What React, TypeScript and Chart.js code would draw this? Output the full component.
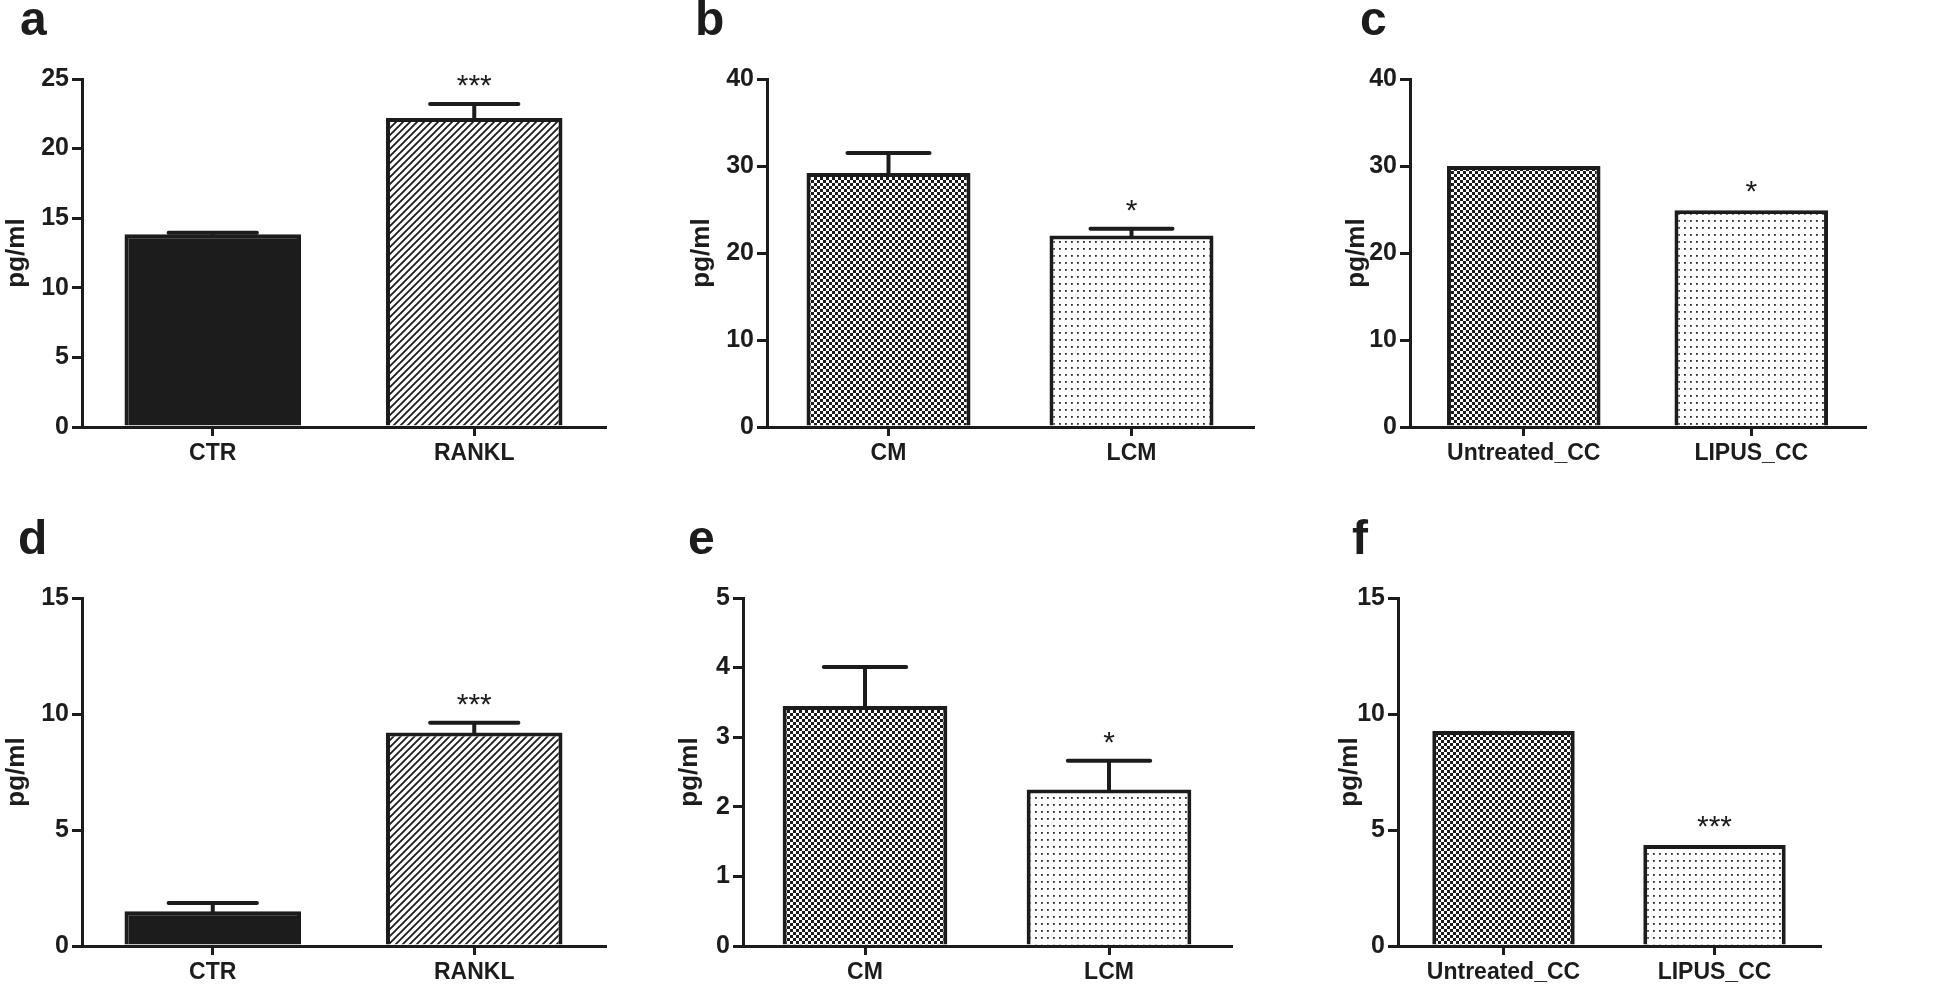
import React, { useEffect, useRef } from "react";
import { Chart, registerables } from "chart.js";

Chart.register(...registerables);

// ---------- DATA ----------
const catsA = ["CTR", "RANKL"];
const catsB = ["CM", "LCM"];
const catsC = ["Untreated_CC", "LIPUS_CC"];

const valuesA = [13.85, 22.2];
const errorsA = [0.1, 1.0];
const sigA = ["", "***"];

const valuesB = [29.2, 22.0];
const errorsB = [2.3, 0.8];
const sigB = ["", "*"];

const valuesC = [30.0, 24.9];
const errorsC = [0, 0];
const sigC = ["", "*"];

const valuesD = [1.5, 9.2];
const errorsD = [0.35, 0.42];
const sigD = ["", "***"];

const valuesE = [3.45, 2.25];
const errorsE = [0.56, 0.41];
const sigE = ["", "*"];

const valuesF = [9.27, 4.35];
const errorsF = [0, 0];
const sigF = ["", "***"];

const yMaxes = [25, 40, 40, 15, 5, 15];
const ySteps = [5, 10, 10, 5, 1, 5];
const panelLetters = ["a", "b", "c", "d", "e", "f"];
const yTitle = "pg/ml";

// ---------- STYLE / LAYOUT ----------
const INK = "#1c1c1c";
const FONT = "'Liberation Sans', Arial, Helvetica, sans-serif";

function makePattern(kind: string): CanvasPattern | string {
  const c = document.createElement("canvas");
  const g = c.getContext("2d")!;
  if (kind === "solid") return INK;
  if (kind === "hatch") {
    const s = 7;
    c.width = s; c.height = s;
    g.fillStyle = "#fff"; g.fillRect(0, 0, s, s);
    g.strokeStyle = INK; g.lineWidth = 1.8;
    g.beginPath();
    g.moveTo(-1, 1); g.lineTo(1, -1);
    g.moveTo(0, s); g.lineTo(s, 0);
    g.moveTo(s - 1, s + 1); g.lineTo(s + 1, s - 1);
    g.stroke();
  } else if (kind === "check") {
    const cs = 3;
    c.width = cs * 2; c.height = cs * 2;
    g.fillStyle = "#fff"; g.fillRect(0, 0, cs * 2, cs * 2);
    g.fillStyle = INK;
    g.fillRect(0, 0, cs, cs);
    g.fillRect(cs, cs, cs, cs);
  } else {
    c.width = 6; c.height = 7;
    g.fillStyle = "#fff"; g.fillRect(0, 0, 6, 7);
    g.fillStyle = "#2a2a2a";
    g.fillRect(2, 3, 1.8, 1.8);
  }
  return g.createPattern(c, "repeat")!;
}

type PanelCfg = {
  cats: string[]; values: number[]; errors: number[]; sig: string[];
  yMax: number; yStep: number; letter: string; fills: string[][];
  left: number; top: number; width: number; height: number;
  axisX: number; axisRight: number; padTop: number; xHeight: number;
  letterX: number; letterY: number;
};

const errPlugin = {
  id: "errs",
  afterDatasetsDraw(chart: any, _args: any, opts: any) {
    const ctx = chart.ctx;
    const meta = chart.getDatasetMeta(0);
    const ys = chart.scales.y;
    const data = chart.data.datasets[0].data as number[];
    meta.data.forEach((bar: any, i: number) => {
      const v = data[i];
      const e = opts.errors[i] || 0;
      const x = bar.x;
      const w = bar.width;
      const top = ys.getPixelForValue(v);
      const capY = ys.getPixelForValue(v + e);
      ctx.save();
      ctx.strokeStyle = INK;
      ctx.lineWidth = 4;
      if (e > 0) {
        ctx.lineCap = "butt";
        ctx.beginPath();
        ctx.moveTo(x, top + 2);
        ctx.lineTo(x, capY);
        ctx.stroke();
        ctx.lineCap = "round";
        ctx.beginPath();
        ctx.moveTo(x - w / 4, capY);
        ctx.lineTo(x + w / 4, capY);
        ctx.stroke();
      }
      const s = opts.sig[i];
      if (s) {
        ctx.fillStyle = INK;
        ctx.font = `normal 30px ${FONT}`;
        ctx.textAlign = "center";
        ctx.textBaseline = "alphabetic";
        ctx.fillText(s, x, capY - 9);
      }
      ctx.restore();
    });
  },
};

function Panel({ cfg }: { cfg: PanelCfg }) {
  const ref = useRef<HTMLCanvasElement>(null);
  useEffect(() => {
    const canvas = ref.current!;
    const bg = cfg.fills.map((f) => makePattern(f[0]));
    const chart = new Chart(canvas, {
      type: "bar",
      data: {
        labels: cfg.cats,
        datasets: [
          {
            data: cfg.values,
            backgroundColor: bg as any,
            borderColor: INK,
            borderWidth: 4,
            borderSkipped: "start",
            barPercentage: 0.675,
            categoryPercentage: 1,
          },
        ],
      },
      options: {
        responsive: false,
        animation: false,
        devicePixelRatio: 1,
        events: [],
        layout: {
          padding: {
            left: 0,
            top: cfg.padTop,
            right: cfg.left + cfg.width - cfg.axisRight,
            bottom: 0,
          },
        },
        plugins: {
          legend: { display: false },
          tooltip: { enabled: false },
          errs: { errors: cfg.errors, sig: cfg.sig },
        } as any,
        scales: {
          x: {
            type: "category",
            offset: true,
            afterFit: (s: any) => { s.height = cfg.xHeight; },
            grid: {
              display: true,
              offset: false,
              drawOnChartArea: false,
              drawTicks: true,
              tickLength: 9,
              lineWidth: 3,
              color: INK,
            },
            border: { display: true, width: 3, color: INK },
            ticks: {
              color: INK,
              padding: 4,
              maxRotation: 0,
              font: { family: FONT, size: 23, weight: "bold" },
            },
          },
          y: {
            min: 0,
            max: cfg.yMax,
            afterFit: (s: any) => { s.width = cfg.axisX - cfg.left; },
            grid: {
              display: true,
              drawOnChartArea: false,
              drawTicks: true,
              tickLength: 10,
              lineWidth: 3,
              color: INK,
            },
            border: { display: true, width: 3, color: INK },
            ticks: {
              stepSize: cfg.yStep,
              color: INK,
              padding: 3,
              font: { family: FONT, size: 25, weight: "bold" },
            },
            title: {
              display: true,
              text: yTitle,
              color: INK,
              padding: { top: 1, bottom: 0 },
              font: { family: FONT, size: 26, weight: "bold" },
            },
          },
        },
      },
      plugins: [errPlugin as any],
    });
    return () => chart.destroy();
  }, []);
  return (
    <>
      <canvas
        ref={ref}
        width={cfg.width}
        height={cfg.height}
        style={{
          position: "absolute",
          left: cfg.left,
          top: cfg.top,
          width: cfg.width,
          height: cfg.height,
          display: "block",
        }}
      />
      <div
        style={{
          position: "absolute",
          left: cfg.letterX,
          top: cfg.letterY,
          font: `bold 48px/48px ${FONT}`,
          color: INK,
        }}
      >
        {cfg.letter}
      </div>
    </>
  );
}

const fillsA = [["solid"], ["hatch"]];
const fillsB = [["check"], ["dots"]];

const panels: PanelCfg[] = [
  { cats: catsA, values: valuesA, errors: errorsA, sig: sigA, yMax: yMaxes[0], yStep: ySteps[0], letter: panelLetters[0], fills: fillsA,
    left: 0, top: 0, width: 660, height: 495, axisX: 82, axisRight: 605, padTop: 79, xHeight: 68, letterX: 20, letterY: -5 },
  { cats: catsB, values: valuesB, errors: errorsB, sig: sigB, yMax: yMaxes[1], yStep: ySteps[1], letter: panelLetters[1], fills: fillsB,
    left: 685, top: 0, width: 645, height: 495, axisX: 767, axisRight: 1253, padTop: 79, xHeight: 68, letterX: 695, letterY: -5 },
  { cats: catsC, values: valuesC, errors: errorsC, sig: sigC, yMax: yMaxes[2], yStep: ySteps[2], letter: panelLetters[2], fills: fillsB,
    left: 1340, top: 0, width: 606, height: 495, axisX: 1410, axisRight: 1865, padTop: 79, xHeight: 68, letterX: 1360, letterY: -5 },
  { cats: catsA, values: valuesD, errors: errorsD, sig: sigD, yMax: yMaxes[3], yStep: ySteps[3], letter: panelLetters[3], fills: fillsA,
    left: 0, top: 500, width: 660, height: 489, axisX: 82, axisRight: 605, padTop: 98, xHeight: 43, letterX: 18, letterY: 514 },
  { cats: catsB, values: valuesE, errors: errorsE, sig: sigE, yMax: yMaxes[4], yStep: ySteps[4], letter: panelLetters[4], fills: fillsB,
    left: 673, top: 500, width: 647, height: 489, axisX: 743, axisRight: 1231, padTop: 98, xHeight: 43, letterX: 688, letterY: 514 },
  { cats: catsC, values: valuesF, errors: errorsF, sig: sigF, yMax: yMaxes[5], yStep: ySteps[5], letter: panelLetters[5], fills: fillsB,
    left: 1333, top: 500, width: 613, height: 489, axisX: 1398, axisRight: 1820, padTop: 98, xHeight: 43, letterX: 1352, letterY: 514 },
];

export default function App() {
  return (
    <div
      style={{
        position: "absolute",
        left: 0,
        top: 0,
        width: 1946,
        height: 989,
        background: "#fff",
        overflow: "hidden",
      }}
    >
      {panels.map((p, i) => (
        <Panel key={i} cfg={p} />
      ))}
    </div>
  );
}
